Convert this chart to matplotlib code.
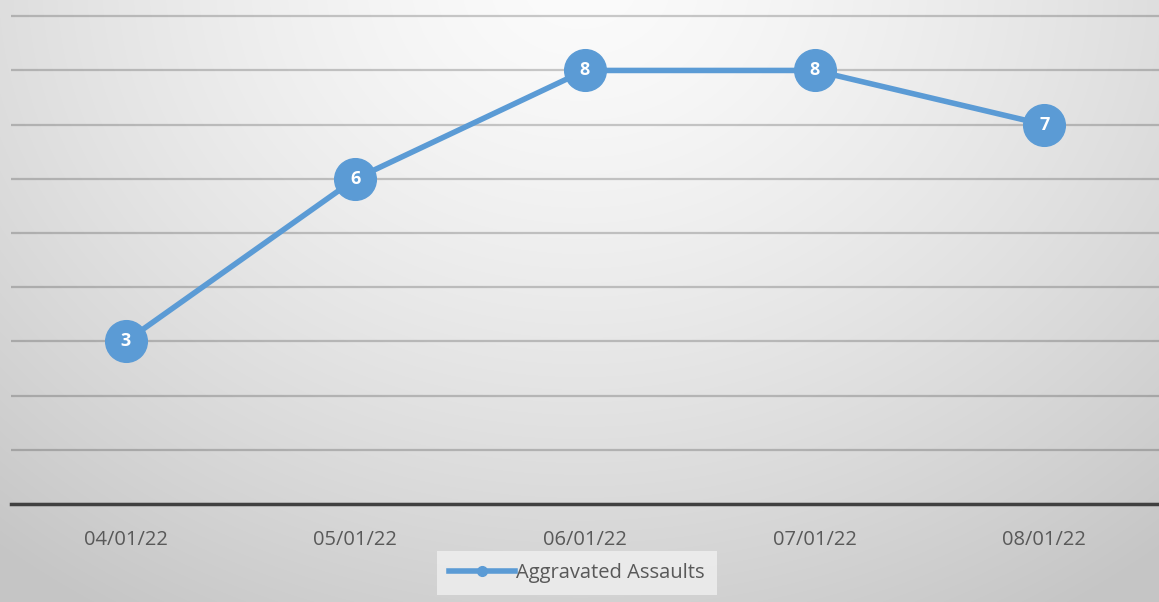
import numpy as np
import matplotlib
matplotlib.use("Agg")
import matplotlib.pyplot as plt
from matplotlib.lines import Line2D

categories = ["04/01/22", "05/01/22", "06/01/22", "07/01/22", "08/01/22"]
values = [3, 6, 8, 8, 7]
series_name = "Aggravated Assaults"

W, H = 1159, 602
fig = plt.figure(figsize=(W / 100, H / 100), dpi=100)

# radial gradient background
bg = fig.add_axes([0, 0, 1, 1], zorder=0)
yy, xx = np.mgrid[0:H, 0:W]
cx, cy = 580, -20
r = np.sqrt(((xx - cx) / 820.0) ** 2 + ((yy - cy) / 680.0) ** 2)
r = np.clip(r, 0, 1.1)
top, edge = 0.985, 0.80
g = top - (top - edge) * r ** 1.4
g = np.clip(g, 0, 1)
img = np.dstack([g, g, g])
bg.imshow(img, aspect="auto", extent=[0, 1, 0, 1], origin="upper")
bg.axis("off")

ax = fig.add_axes([11 / W, (H - 504) / H, (W - 11) / W, 504 / H], zorder=1)
ax.patch.set_alpha(0)
x = np.arange(len(categories))
color = "#5B9BD5"
ax.plot(x, values, color=color, lw=4.0, marker="o", markersize=30,
        markerfacecolor=color, markeredgecolor=color, solid_capstyle="round", zorder=3)
for xi, v in zip(x, values):
    ax.text(xi, v, str(v), color="white", fontsize=13, fontweight="bold",
            ha="center", va="center", family="Open Sans", zorder=4)

ax.set_xlim(-0.5, len(categories) - 0.5)
ax.set_ylim(0, 9.3)
ax.set_yticks(np.arange(0, 10))
ax.yaxis.grid(True, color="black", alpha=0.2, lw=1.6)
ax.set_axisbelow(True)
for s in ["top", "right", "left"]:
    ax.spines[s].set_visible(False)
ax.spines["bottom"].set_color("#404040")
ax.spines["bottom"].set_linewidth(2.5)
ax.spines["bottom"].set_zorder(2)
ax.tick_params(axis="y", left=False, labelleft=False)
ax.tick_params(axis="x", bottom=False, pad=15, labelsize=14.5, labelcolor="#595959")
ax.set_xticks(x)
ax.set_xticklabels(categories, family="Open Sans")

handle = Line2D([0], [0], color=color, lw=4.0, marker="o", markersize=7)
leg = fig.legend([handle], [series_name], loc="center", bbox_to_anchor=(577 / W, 1 - 573 / H),
                 frameon=True, fancybox=False, handlelength=3.3, handletextpad=0.05,
                 borderpad=0.6, prop={"family": "Open Sans", "size": 14.5})
leg.get_frame().set_facecolor("#eeeeee")
leg.get_frame().set_edgecolor("none")
leg.get_frame().set_alpha(0.85)
for t in leg.get_texts():
    t.set_color("#595959")

fig.savefig("out.png", dpi=100)
